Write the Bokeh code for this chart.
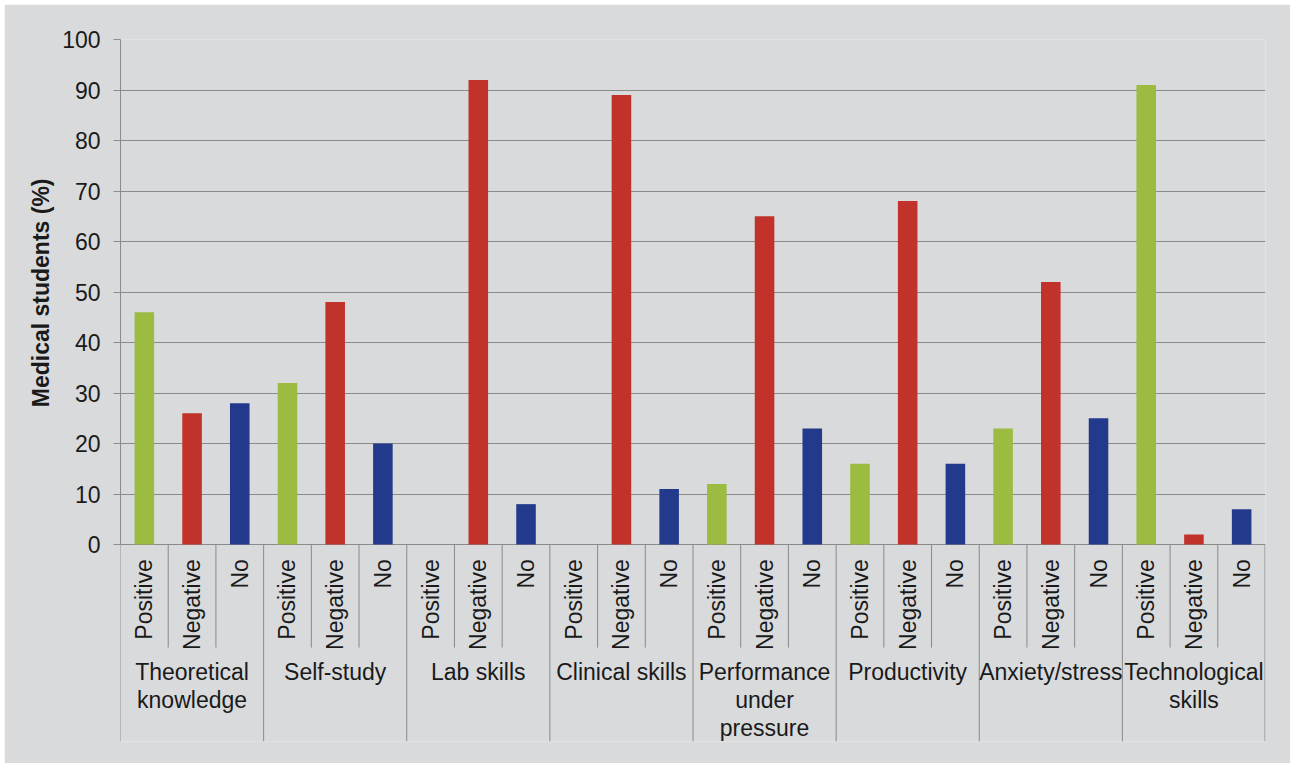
import math

from bokeh.core.properties import value
from bokeh.embed import file_html
from bokeh.models import ColumnDataSource, FixedTicker, LabelSet, Range1d, Title
from bokeh.plotting import figure
from bokeh.resources import INLINE

# Survey results: share of medical students reporting each kind of effect
groups = [
    "Theoretical\nknowledge",
    "Self-study",
    "Lab skills",
    "Clinical skills",
    "Performance\nunder\npressure",
    "Productivity",
    "Anxiety/stress",
    "Technological\nskills",
]
responses = ["Positive", "Negative", "No"]
positive = [46, 32, 0, 0, 12, 16, 23, 91]
negative = [26, 48, 92, 89, 65, 68, 52, 2]
no_effect = [28, 20, 8, 11, 23, 16, 25, 7]
y_ticks = [0, 10, 20, 30, 40, 50, 60, 70, 80, 90, 100]

BG = "#d9dadc"
LINE = "#8a8a8a"
TEXT = "#1a1a1a"
FONT = "Liberation Sans"
SIZE = "23px"
colors = ["#9bbb41", "#c0322a", "#233a8c"]

n_sub = len(responses)
n_slots = len(groups) * n_sub

# one slot per (group, response); bars sit in the middle of each slot
xs, tops, fills, sub_text = [], [], [], []
for g in range(len(groups)):
    for r, series in enumerate([positive, negative, no_effect]):
        xs.append(g * n_sub + r + 0.5)
        tops.append(series[g])
        fills.append(colors[r])
        sub_text.append(responses[r])

bars = ColumnDataSource(dict(x=xs, top=tops, color=fills, label=sub_text))

p = figure(
    width=1286,
    height=759,
    x_range=Range1d(0, n_slots),
    y_range=Range1d(-39, 100),
    x_axis_location=None,
    output_backend="svg",
    toolbar_location=None,
    min_border_left=116,
    min_border_right=25,
    min_border_top=35,
    min_border_bottom=22,
    background_fill_color=BG,
    border_fill_color=BG,
    outline_line_color=None,
)
p.margin = (4, 0, 0, 4)

ticker = FixedTicker(ticks=y_ticks, minor_ticks=[])
p.yaxis.ticker = ticker
p.yaxis.bounds = (0, 100)
p.yaxis.axis_line_color = LINE
p.yaxis.major_tick_line_color = LINE
p.yaxis.major_tick_out = 7
p.yaxis.major_tick_in = 0
p.yaxis.minor_tick_line_color = None
p.yaxis.major_label_standoff = 13
p.yaxis.major_label_text_font = FONT
p.yaxis.major_label_text_font_size = SIZE
p.yaxis.major_label_text_color = TEXT

# y title, placed against the 0-100 part of the axis
p.add_layout(Title(
    text="Medical students (%)", align="right", offset=139,
    vertical_align="middle", standoff=10,
    text_font=FONT, text_font_size=SIZE, text_font_style="bold",
    text_color=TEXT,
), "left")

p.ygrid.ticker = ticker
p.ygrid.grid_line_color = LINE
p.xgrid.grid_line_color = None

p.vbar(x="x", top="top", bottom=0, width=0.41, fill_color="color",
       line_color=None, source=bars)

# separators below the baseline: short between responses, long between groups
sep_x = list(range(n_slots + 1))
sep_end = [-39 if i % n_sub == 0 else -20.4 for i in sep_x]
sep_x[-1] = n_slots - 0.01
p.segment(x0=sep_x, y0=0, x1=sep_x, y1=sep_end, line_color=LINE, line_width=1)

# response labels, rotated, hanging from the baseline
p.text(x="x", y=-2.9, text="label", source=bars, angle=math.pi / 2,
       text_align="right", text_baseline="middle",
       text_font=value(FONT), text_font_size=SIZE, text_color=TEXT)

# group names, one entry per line
gx, gy, gt = [], [], []
for g, name in enumerate(groups):
    for k, line in enumerate(name.split("\n")):
        gx.append(g * n_sub + n_sub / 2)
        gy.append(-26.9 - 5.55 * k)
        gt.append(line)

p.add_layout(LabelSet(
    x="x", y="y", text="text", source=ColumnDataSource(dict(x=gx, y=gy, text=gt)),
    text_align="center", text_baseline="alphabetic",
    text_font=value(FONT), text_font_size=SIZE, text_color=TEXT,
))

open("out.html", "w").write(file_html(p, INLINE))
